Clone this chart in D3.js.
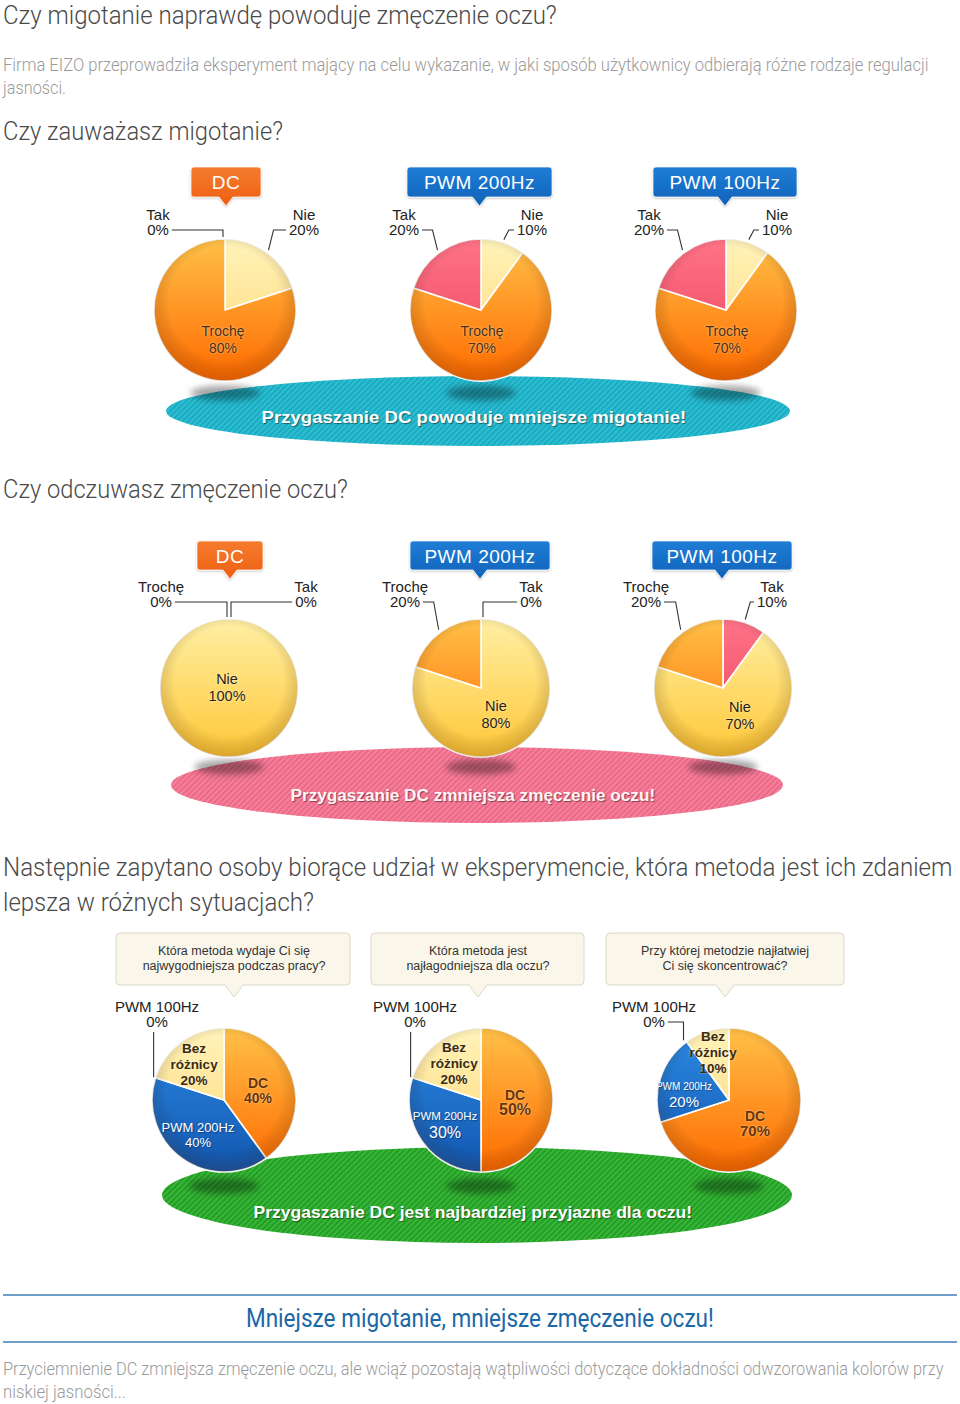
<!DOCTYPE html>
<html><head><meta charset="utf-8">
<script src="https://cdn.jsdelivr.net/npm/d3@7/dist/d3.min.js"></script>
<style>
body{margin:0;background:#fff;}
svg{display:block;}
</style></head>
<body><svg id="c" width="960" height="1404"></svg>
<script>
// ---------------- DATA ----------------
const flickerMethods = ["DC", "PWM 200Hz", "PWM 100Hz"];
const flickerAnswers = ["Nie", "Trochę", "Tak"];          // clockwise from 12 o'clock
const flickerDC = [20, 80, 0];
const flickerPWM200 = [10, 70, 20];
const flickerPWM100 = [10, 70, 20];

const fatigueMethods = ["DC", "PWM 200Hz", "PWM 100Hz"];
const fatigueAnswers = ["Tak", "Nie", "Trochę"];
const fatigueDC = [0, 100, 0];
const fatiguePWM200 = [0, 80, 20];
const fatiguePWM100 = [10, 70, 20];

const preferenceQuestions = [
  ["Która metoda wydaje Ci się", "najwygodniejsza podczas pracy?"],
  ["Która metoda jest", "najłagodniejsza dla oczu?"],
  ["Przy której metodzie najłatwiej", "Ci się skoncentrować?"]
];
const preferenceAnswers = ["DC", "PWM 200Hz", "PWM 100Hz", "Bez różnicy"];
const comfortValues = [40, 40, 0, 20];
const gentleValues = [50, 30, 0, 20];
const focusValues = [70, 20, 0, 10];

const titleText = "Czy migotanie naprawdę powoduje zmęczenie oczu?";
const introLines = ["Firma EIZO przeprowadziła eksperyment mający na celu wykazanie, w jaki sposób użytkownicy odbierają różne rodzaje regulacji", "jasności."];
const q1Title = "Czy zauważasz migotanie?";
const q2Title = "Czy odczuwasz zmęczenie oczu?";
const q3TitleLines = ["Następnie zapytano osoby biorące udział w eksperymencie, która metoda jest ich zdaniem", "lepsza w różnych sytuacjach?"];
const platformTexts = ["Przygaszanie DC powoduje mniejsze migotanie!", "Przygaszanie DC zmniejsza zmęczenie oczu!", "Przygaszanie DC jest najbardziej przyjazne dla oczu!"];
const conclusion = "Mniejsze migotanie, mniejsze zmęczenie oczu!";
const outroLines = ["Przyciemnienie DC zmniejsza zmęczenie oczu, ale wciąż pozostają wątpliwości dotyczące dokładności odwzorowania kolorów przy", "niskiej jasności..."];

// ---------------- STYLE / LAYOUT ----------------
const COND = "'Roboto','Liberation Sans',sans-serif";
const SANS = "'Liberation Sans',Arial,sans-serif";
const palettes = {
  orange: ["#FFC048", "#FF6A00"],
  pale:   ["#FFF3BA", "#FFD570"],
  yellow: ["#FFEFA4", "#FFC737"],
  pink:   ["#FF7387", "#EC425C"],
  blue:   ["#2C8BE3", "#1256B0"]
};
const tagColors = { "DC": ["#F57B2E", "#EE5F12"], "PWM 200Hz": ["#1F7DD6", "#0F62B9"], "PWM 100Hz": ["#1F7DD6", "#0F62B9"] };

const svg = d3.select("#c");
const defs = svg.append("defs");

const blurF = defs.append("filter").attr("id", "blur").attr("x", "-50%").attr("y", "-50%").attr("width", "200%").attr("height", "200%");
blurF.append("feGaussianBlur").attr("stdDeviation", 3);
const tagShadow = defs.append("filter").attr("id", "tagsh").attr("x", "-20%").attr("y", "-20%").attr("width", "140%").attr("height", "160%");
tagShadow.append("feDropShadow").attr("dx", 0).attr("dy", 1).attr("stdDeviation", 1).attr("flood-color", "#000").attr("flood-opacity", 0.25);

const rim = defs.append("radialGradient").attr("id", "rim").attr("cx", "50%").attr("cy", "45%").attr("r", "55%");
rim.append("stop").attr("offset", "0.72").attr("stop-color", "#000").attr("stop-opacity", 0);
rim.append("stop").attr("offset", "1").attr("stop-color", "#5a2a00").attr("stop-opacity", 0.22);

function hatch(id, base, line) {
  const p = defs.append("pattern").attr("id", id).attr("width", 4).attr("height", 4)
    .attr("patternUnits", "userSpaceOnUse").attr("patternTransform", "rotate(45)");
  p.append("rect").attr("width", 4).attr("height", 4).attr("fill", base);
  p.append("line").attr("x1", 1).attr("y1", 0).attr("x2", 1).attr("y2", 4).attr("stroke", line).attr("stroke-width", 1.4);
}
hatch("h-teal", "#15ADC3", "#3FC2D5");
hatch("h-pink", "#EE6886", "#F58CA5");
hatch("h-green", "#20A022", "#48BB46");

function txt(sel, s, x, y, o = {}) {
  const t = sel.append("text").attr("x", x).attr("y", y).text(s);
  Object.entries(o).forEach(([k, v]) => {
    if (k === "style") t.attr("style", v); else t.attr(k, v);
  });
  return t;
}
// text horizontally scaled to a target width (keeps real text, condensed look)
function fitText(sel, s, x, y, width, o = {}, anchor = "start") {
  const g = sel.append("g");
  const t = txt(g, s, 0, 0, o);
  const w = t.node().getComputedTextLength();
  const k = width / w;
  const x0 = anchor === "middle" ? x - width / 2 : x;
  g.attr("transform", `translate(${x0},${y}) scale(${k},1)`);
  return t;
}

function bubblePath(x, y, w, h, r, px, pw, ph) {
  return `M${x + r},${y} H${x + w - r} Q${x + w},${y} ${x + w},${y + r} V${y + h - r} Q${x + w},${y + h} ${x + w - r},${y + h} ` +
    `H${px + pw / 2} L${px},${y + h + ph} L${px - pw / 2},${y + h} H${x + r} Q${x},${y + h} ${x},${y + h - r} V${y + r} Q${x},${y} ${x + r},${y} Z`;
}

// ---------------- HEADINGS ----------------
const H = svg.append("g");
const headStyle = { "font-family": COND, "font-size": 26, "font-weight": 300, fill: "#4a4a4a" };
const bodyStyle = { "font-family": COND, "font-size": 18, "font-weight": 300, fill: "#9a9a9a" };
fitText(H, titleText, 3, 24, 554, Object.assign({}, headStyle, { "font-size": 25 }));
fitText(H, introLines[0], 3, 71, 926, bodyStyle);
fitText(H, introLines[1], 3, 94, 63, bodyStyle);
fitText(H, q1Title, 3, 140, 280, headStyle);
fitText(H, q2Title, 3, 498, 345, headStyle);
fitText(H, q3TitleLines[0], 3, 876, 950, headStyle);
fitText(H, q3TitleLines[1], 3, 911, 311, headStyle);

H.append("line").attr("x1", 3).attr("x2", 957).attr("y1", 1295).attr("y2", 1295).attr("stroke", "#3E7DB4").attr("stroke-width", 1.5);
H.append("line").attr("x1", 3).attr("x2", 957).attr("y1", 1342).attr("y2", 1342).attr("stroke", "#3E7DB4").attr("stroke-width", 1.5);
fitText(H, conclusion, 480, 1327, 468, { "font-family": COND, "font-size": 25, "font-weight": 400, fill: "#1C67A6" }, "middle");
fitText(H, outroLines[0], 3, 1375, 941, bodyStyle);
fitText(H, outroLines[1], 3, 1398, 123, bodyStyle);

// ---------------- PLATFORMS ----------------
function platform(cx, cy, rx, ry, pat, label, ty, tw, fill) {
  const g = svg.append("g");
  g.append("ellipse").attr("cx", cx).attr("cy", cy).attr("rx", rx).attr("ry", ry).attr("fill", `url(#${pat})`);
  fitText(g, label, cx - 4, ty, tw, { "font-family": SANS, "font-size": 17, "font-weight": "bold", fill: fill,
    style: "text-shadow:1px 1px 1px rgba(0,0,0,0.45)" }, "middle");
  return g;
}

// ---------------- TAGS ----------------
function tag(label, cx, y, w, h) {
  const [c0, c1] = tagColors[label];
  const id = "tg" + Math.round(cx) + "_" + y;
  const lg = defs.append("linearGradient").attr("id", id).attr("x1", 0).attr("y1", 0).attr("x2", 0).attr("y2", 1);
  lg.append("stop").attr("offset", 0).attr("stop-color", c0);
  lg.append("stop").attr("offset", 1).attr("stop-color", c1);
  const g = svg.append("g");
  g.append("path").attr("d", bubblePath(cx - w / 2, y, w, h, 3, cx, 14, 9)).attr("fill", `url(#${id})`)
    .attr("stroke", "rgba(255,255,255,0.7)").attr("stroke-width", 1).attr("filter", "url(#tagsh)");
  txt(g, label, cx, y + h / 2 + 7, { "font-family": SANS, "font-size": 19, fill: "#fff", "text-anchor": "middle", "letter-spacing": 0.5 });
}

function question(lines, x, y, w, h, px) {
  const g = svg.append("g");
  g.append("path").attr("d", bubblePath(x, y, w, h, 4, px, 18, 12)).attr("fill", "#FAF7EA").attr("stroke", "#DCD8C8").attr("stroke-width", 1);
  lines.forEach((l, i) => txt(g, l, px, y + 22 + i * 15, { "font-family": SANS, "font-size": 12.5, fill: "#333", "text-anchor": "middle" }));
}

// ---------------- PIES ----------------
function polar(a, R) { return [R * Math.sin(a), -R * Math.cos(a)]; }

function drawPie(cfg) {
  const { key, cx, cy, r, cats, values, colorOf, inside, outside, L1, L2, shadowDy, outsideSize, labelLines } = cfg;
  const g = svg.append("g").attr("transform", `translate(${cx},${cy})`);
  g.append("ellipse").attr("cx", 0).attr("cy", r + shadowDy).attr("rx", 35).attr("ry", 7.5)
    .attr("fill", "rgba(0,0,0,0.35)").attr("filter", "url(#blur)");
  Object.entries(palettes).forEach(([name, [c0, c1]]) => {
    const lg = defs.append("linearGradient").attr("id", `g-${key}-${name}`).attr("gradientUnits", "userSpaceOnUse")
      .attr("x1", 0).attr("y1", -r).attr("x2", 0).attr("y2", r);
    lg.append("stop").attr("offset", 0).attr("stop-color", c0);
    lg.append("stop").attr("offset", 1).attr("stop-color", c1);
  });
  const arcs = d3.pie().sort(null).value(d => d.value)(cats.map((c, i) => ({ cat: c, value: values[i] })));
  const arc = d3.arc().innerRadius(0).outerRadius(r);
  g.selectAll("path.slice").data(arcs.filter(a => a.value > 0)).join("path").attr("class", "slice")
    .attr("d", arc).attr("fill", a => `url(#g-${key}-${colorOf[a.data.cat]})`)
    .attr("stroke", "#fff").attr("stroke-width", 1.6).attr("stroke-linejoin", "round");
  g.append("circle").attr("r", r).attr("fill", "url(#rim)").attr("pointer-events", "none");

  Object.entries(inside).forEach(([cat, spec]) => {
    const a = arcs.find(d => d.data.cat === cat);
    const lines = (labelLines[cat] || [cat]).concat([a.value + "%"]);
    lines.forEach((l, i) => {
      txt(g, l, spec.dx, spec.dy + (spec.gaps ? spec.gaps[i] : i * (spec.gap || 16)), {
        "font-family": SANS, "font-size": spec.sizes ? spec.sizes[i] : (spec.size || 14),
        "font-weight": spec.bold ? "bold" : "normal", fill: spec.fill, "text-anchor": "middle",
        style: spec.shadow || ""
      });
    });
  });

  Object.entries(outside).forEach(([cat, dx]) => {
    const a = arcs.find(d => d.data.cat === cat);
    const zero = a.value === 0;
    const side = Math.sign(dx);
    const ang = zero ? a.startAngle : (a.startAngle + a.endAngle) / 2;
    txt(g, cat, dx, L1 - cy, { "font-family": SANS, "font-size": outsideSize, fill: "#222", "text-anchor": "middle" });
    const vt = txt(g, a.value + "%", dx, L2 - cy, { "font-family": SANS, "font-size": outsideSize, fill: "#222", "text-anchor": "middle" });
    const w = vt.node().getComputedTextLength();
    let p0 = polar(ang, r + (zero ? 2 : 3));
    if (zero && Math.abs(dx - p0[0]) > 12) p0 = [p0[0] + side * 2, p0[1]];
    let pts;
    if (Math.abs(dx - p0[0]) < 12) {
      pts = [[p0[0], L2 - cy + 5], p0];
    } else {
      const ly = L2 - cy - 5;
      pts = [p0, [p0[0] + (zero ? 0 : side * 5), ly], [dx - side * (w / 2 + 3), ly]];
    }
    g.append("polyline").attr("points", pts.map(p => p.join(",")).join(" "))
      .attr("fill", "none").attr("stroke", "#333").attr("stroke-width", 1.1);
  });
}

// ---------------- SECTION 1 ----------------
platform(478, 411, 312, 35, "h-teal", platformTexts[0], 423, 425, "#ffffff");
const flickerValues = [flickerDC, flickerPWM200, flickerPWM100];
const flickerLayout = [
  { cx: 225, inside: -2, outside: { "Tak": -67, "Nie": 79 } },
  { cx: 481, inside: 1, outside: { "Tak": -77, "Nie": 51 } },
  { cx: 726, inside: 1, outside: { "Tak": -77, "Nie": 51 } }
];
const trocheStyle = "text-shadow:0 0 2px rgba(255,240,200,0.8)";
flickerMethods.forEach((m, i) => {
  const L = flickerLayout[i];
  drawPie({
    key: "f" + i, cx: L.cx, cy: 310, r: 71, cats: flickerAnswers, values: flickerValues[i],
    colorOf: { "Nie": "pale", "Trochę": "orange", "Tak": "pink" },
    inside: { "Trochę": { dx: L.inside, dy: 26, gap: 17, size: 14, fill: "#4a2c10", shadow: trocheStyle } },
    outside: L.outside, L1: 220, L2: 235, shadowDy: 12, outsideSize: 15, labelLines: {}
  });
});
tag(flickerMethods[0], 226, 167, 70, 30);
tag(flickerMethods[1], 479.5, 167, 145, 30);
tag(flickerMethods[2], 725, 167, 144, 30);

// ---------------- SECTION 2 ----------------
platform(477, 785, 306, 38, "h-pink", platformTexts[1], 801, 365, "#fff4f7");
const fatigueValues = [fatigueDC, fatiguePWM200, fatiguePWM100];
const fatigueLayout = [
  { cx: 229, inside: [-2, -4], outside: { "Trochę": -68, "Tak": 77 } },
  { cx: 481, inside: [15, 23], outside: { "Trochę": -76, "Tak": 50 } },
  { cx: 723, inside: [17, 24], outside: { "Trochę": -77, "Tak": 49 } }
];
fatigueMethods.forEach((m, i) => {
  const L = fatigueLayout[i];
  drawPie({
    key: "z" + i, cx: L.cx, cy: 688, r: 69, cats: fatigueAnswers, values: fatigueValues[i],
    colorOf: { "Tak": "pink", "Nie": "yellow", "Trochę": "orange" },
    inside: { "Nie": { dx: L.inside[0], dy: L.inside[1], gap: 17, size: 14.5, fill: "#2a2010", shadow: "text-shadow:0 0 2px rgba(255,255,230,0.9)" } },
    outside: L.outside, L1: 592, L2: 607, shadowDy: 10, outsideSize: 15, labelLines: {}
  });
});
tag(fatigueMethods[0], 230, 541, 66, 29);
tag(fatigueMethods[1], 480, 541, 140, 29);
tag(fatigueMethods[2], 722, 541, 140, 29);

// ---------------- SECTION 3 ----------------
platform(477, 1195, 315, 48, "h-green", platformTexts[2], 1218, 439, "#ffffff");
question(preferenceQuestions[0], 116, 933, 234, 52, 234);
question(preferenceQuestions[1], 371, 933, 213, 52, 478);
question(preferenceQuestions[2], 606, 933, 238, 52, 725);
const prefValues = [comfortValues, gentleValues, focusValues];
const bezStyle = { bold: true, fill: "#3a2a0c", size: 13.5, gap: 16, shadow: "text-shadow:0 0 2px rgba(255,255,255,0.7)" };
const dcStyle = { bold: true, fill: "#6a3300", shadow: "text-shadow:0 0 2px rgba(255,235,200,0.9)" };
const pwmStyle = { bold: false, fill: "#ffffff", shadow: "text-shadow:1px 1px 1px rgba(0,0,0,0.35)" };
const prefLayout = [
  { cx: 224, outside: -67,
    inside: { "Bez różnicy": Object.assign({ dx: -30, dy: -47 }, bezStyle),
              "DC": Object.assign({ dx: 34, dy: -12, gap: 15, size: 14 }, dcStyle),
              "PWM 200Hz": Object.assign({ dx: -26, dy: 32, gap: 15, size: 13 }, pwmStyle) } },
  { cx: 481, outside: -66,
    inside: { "Bez różnicy": Object.assign({ dx: -27, dy: -48 }, bezStyle),
              "DC": Object.assign({ dx: 34, dy: 0, gap: 15, sizes: [14, 16] }, dcStyle),
              "PWM 200Hz": Object.assign({ dx: -36, dy: 20, gaps: [0, 18], sizes: [11.5, 16] }, pwmStyle) } },
  { cx: 729, outside: -75,
    inside: { "Bez różnicy": Object.assign({ dx: -16, dy: -59 }, bezStyle),
              "DC": Object.assign({ dx: 26, dy: 21, gap: 15, sizes: [14, 15] }, dcStyle),
              "PWM 200Hz": Object.assign({ dx: -45, dy: -10, gaps: [0, 17], sizes: [10, 15] }, pwmStyle) } }
];
prefValues.forEach((vals, i) => {
  const L = prefLayout[i];
  drawPie({
    key: "p" + i, cx: L.cx, cy: 1100, r: 72, cats: preferenceAnswers, values: vals,
    colorOf: { "DC": "orange", "PWM 200Hz": "blue", "PWM 100Hz": "pale", "Bez różnicy": "pale" },
    inside: L.inside, outside: { "PWM 100Hz": L.outside }, L1: 1012, L2: 1027, shadowDy: 14, outsideSize: 15,
    labelLines: { "Bez różnicy": ["Bez", "różnicy"] }
  });
});
</script></body></html>
